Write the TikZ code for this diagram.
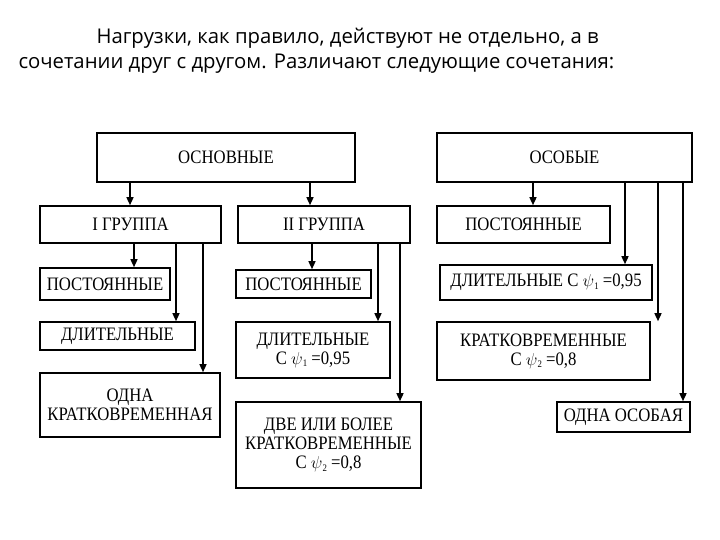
\documentclass[tikz,border=0pt]{standalone}
\usepackage{fontspec}
\setmainfont{Liberation Serif}[FakeStretch=0.88]
\newfontfamily\tsans{Open Sans}
\usetikzlibrary{arrows.meta}
\begin{document}
\begin{tikzpicture}[x=1pt,y=-1pt,
  bx/.style={draw,line width=1.6pt,inner sep=0pt,align=center,font=\fontsize{19}{19}\selectfont},
  ar/.style={line width=1.4pt,-{Triangle[length=8pt,width=7pt]}}]
\useasboundingbox (0,0) rectangle (720,540);
\node[font=\tsans\fontsize{20.3}{24}\selectfont,anchor=west] (t1) at (93,38) {Нагрузки, как правило, действуют не отдельно, а в};
\node[font=\tsans\fontsize{20.3}{24}\selectfont,anchor=west] (t2) at (15,64) {сочетании друг с другом. Различают следующие сочетания:};
\newcommand{\bbox}[6]{\node[bx,minimum width=#4-#2,minimum height=#5-#3] (#1) at ({(#2+#4)/2},{(#3+#5)/2}) {#6};}
\newcommand{\psis}[1]{$\psi$\raisebox{-0.3ex}{\fontsize{10}{10}\selectfont #1}}
\bbox{osn}{97}{133}{355}{182}{ОСНОВНЫЕ}
\bbox{gA}{40}{206}{221}{243}{I ГРУППА}
\bbox{gB}{238}{206}{410}{243}{II ГРУППА}
\bbox{pA}{40}{268}{170}{300}{ПОСТОЯННЫЕ}
\bbox{dA}{40}{322}{195}{350}{ДЛИТЕЛЬНЫЕ}
\bbox{kA}{40}{373}{220}{437}{ОДНА\\КРАТКОВРЕМЕННАЯ}
\bbox{pB}{236}{270}{371}{298}{ПОСТОЯННЫЕ}
\bbox{dB}{236}{322}{390}{378}{ДЛИТЕЛЬНЫЕ\\С \psis{1} =0,95}
\bbox{kB}{236}{402}{421}{488}{ДВЕ ИЛИ БОЛЕЕ\\КРАТКОВРЕМЕННЫЕ\\С \psis{2} =0,8}
\bbox{os}{437}{133}{692}{182}{ОСОБЫЕ}
\bbox{pC}{437}{206}{610}{243}{ПОСТОЯННЫЕ}
\bbox{dC}{440}{265}{652}{300}{ДЛИТЕЛЬНЫЕ С \psis{1} =0,95}
\bbox{kC}{437}{322}{650}{380}{КРАТКОВРЕМЕННЫЕ\\С \psis{2} =0,8}
\bbox{oC}{557}{402}{690}{432}{ОДНА ОСОБАЯ}
\draw[ar] (osn.south -| 130,0) -- (gA.north -| 130,0);
\draw[ar] (osn.south -| 310,0) -- (gB.north -| 310,0);
\draw[ar] (gA.south -| 134,0) -- (pA.north -| 134,0);
\draw[ar] (gA.south -| 176,0) -- (dA.north -| 176,0);
\draw[ar] (gA.south -| 203,0) -- (kA.north -| 203,0);
\draw[ar] (gB.south -| 312,0) -- (pB.north -| 312,0);
\draw[ar] (gB.south -| 378,0) -- (dB.north -| 378,0);
\draw[ar] (gB.south -| 400,0) -- (kB.north -| 400,0);
\draw[ar] (os.south -| 533,0) -- (pC.north -| 533,0);
\draw[ar] (os.south -| 625,0) -- (dC.north -| 625,0);
\draw[ar] (os.south -| 658,0) -- (kC.north -| 658,0);
\draw[ar] (os.south -| 683,0) -- (oC.north -| 683,0);
\end{tikzpicture}
\end{document}
